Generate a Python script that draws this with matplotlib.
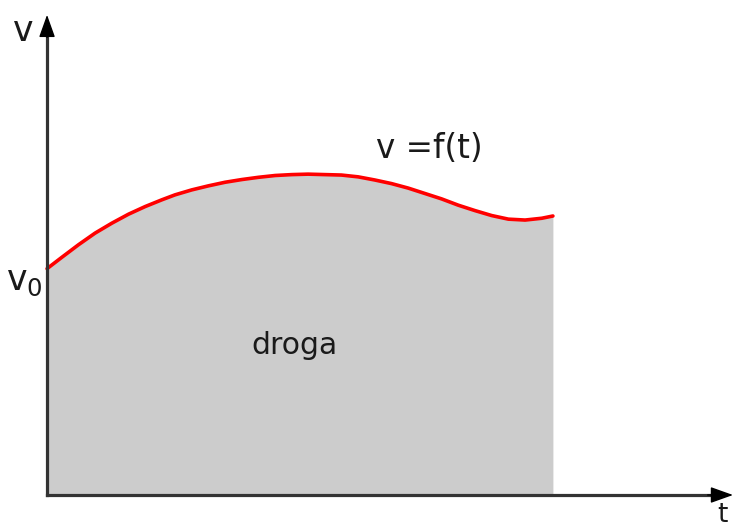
import matplotlib.pyplot as plt

# v = f(t)
t = [0.0, 0.29, 0.62, 0.95, 1.28, 1.61, 1.94, 2.27, 2.53, 2.86, 3.19, 3.52,
     3.85, 4.18, 4.51, 4.84, 5.16, 5.49, 5.82, 6.15, 6.48, 6.81, 7.14, 7.47,
     7.80, 8.13, 8.46, 8.79, 9.12, 9.45, 9.78, 10.0]
v = [5.03, 5.28, 5.56, 5.82, 6.04, 6.24, 6.41, 6.56, 6.67, 6.78, 6.87, 6.95,
     7.01, 7.06, 7.10, 7.12, 7.13, 7.12, 7.11, 7.07, 7.00, 6.92, 6.82, 6.70,
     6.58, 6.44, 6.32, 6.21, 6.13, 6.11, 6.15, 6.20]

t_end = 13.56
v_end = 10.67

fig = plt.figure(figsize=(7.33, 5.31), dpi=100)
ax = fig.add_axes([0, 0, 1, 1])
ax.set_xlim(-0.93, 13.56)
ax.set_ylim(-0.8, 11.0)
ax.axis("off")

# pole pod wykresem = droga
ax.fill_between(t, 0, v, color="#cccccc", lw=0, zorder=1)
ax.plot(t, v, color="red", lw=2.6, zorder=3, solid_capstyle="round")

# osie: trzon szary, grot czarny
axis_col = "#333333"
ax.plot([0, t_end - 0.3], [0, 0], color=axis_col, lw=2.3, zorder=4, clip_on=False)
ax.plot([0, 0], [0, v_end - 0.3], color=axis_col, lw=2.3, zorder=4, clip_on=False)
head = dict(arrowstyle="-|>,head_length=1.4,head_width=0.5",
            color="black", lw=1, shrinkA=0, shrinkB=0)
ax.annotate("", xy=(t_end, 0), xytext=(t_end - 0.5, 0), arrowprops=head,
            annotation_clip=False, zorder=5)
ax.annotate("", xy=(0, v_end), xytext=(0, v_end - 0.5), arrowprops=head,
            annotation_clip=False, zorder=5)

txt = "#1a1a1a"
ax.text(-0.47, 10.3, "v", fontsize=25, ha="center", va="center", color=txt)
ax.text(-0.08, 4.75, r"v$_0$", fontsize=25, ha="right", va="center", color=txt)
ax.text(13.36, -0.6, "t", fontsize=19, ha="center", va="baseline", color=txt)
ax.text(7.55, 7.7, "v =f(t)", fontsize=23.5, ha="center", va="center", color=txt)
ax.text(4.9, 3.33, "droga", fontsize=21.5, ha="center", va="center", color=txt)

fig.savefig("out.png", dpi=100)
